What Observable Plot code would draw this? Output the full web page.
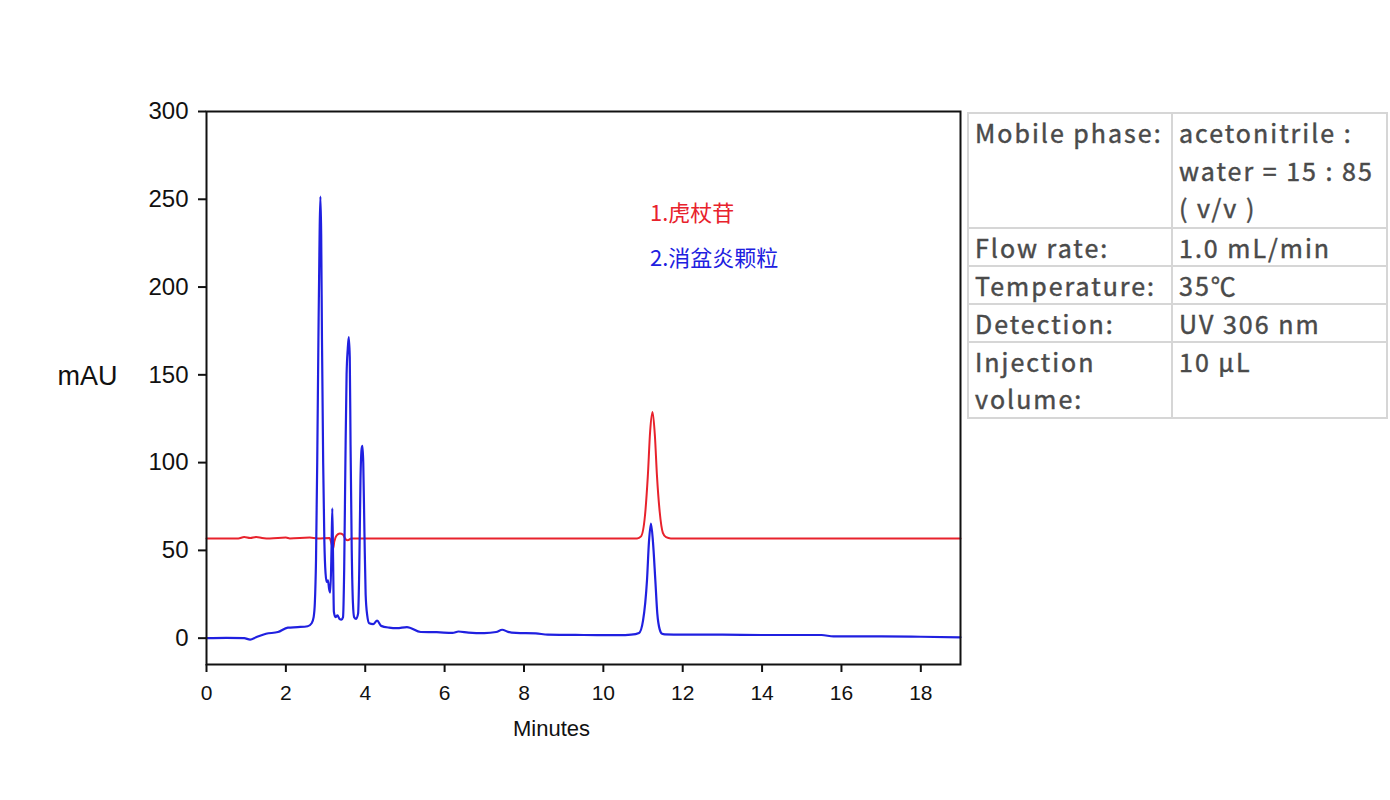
<!DOCTYPE html>
<html>
<head>
<meta charset="utf-8">
<script src="https://cdn.jsdelivr.net/npm/d3@7"></script>
<script src="https://cdn.jsdelivr.net/npm/@observablehq/plot@0.6"></script>
<style>
  html, body { margin: 0; padding: 0; background: #fff; }
  #wrap { position: relative; width: 1390px; height: 800px; }
  #chart { position: absolute; left: 0; top: 0; }
  .leg { position: absolute; left: 650px; font-family: "Noto Sans CJK SC", sans-serif; font-size: 22px; line-height: 30px; white-space: nowrap; }
  table.cond { position: absolute; left: 967px; top: 112px; width: 421px; border-collapse: collapse;
    font-family: "Noto Sans CJK SC", "Noto Sans", sans-serif; font-size: 25px; font-weight: 400; color: #4a4a4a;
    letter-spacing: 2px; -webkit-text-stroke: 0.45px #4a4a4a; }
  table.cond td { border: 2px solid #d6d6d6; padding: 0 6px; line-height: 36px; vertical-align: top; }
  table.cond tr:first-child td { line-height: 37.7px; }
  table.cond tr:last-child td { line-height: 37px; }
  table.cond td:first-child { width: 190px; }
</style>
</head>
<body>
<div id="wrap">
  <div id="chart"></div>
  <div class="leg" id="leg1" style="top:196px;color:#e8222c"></div>
  <div class="leg" id="leg2" style="top:241px;color:#2020e0"></div>
  <table class="cond" id="cond"></table>
</div>
<script>
// ---- data ----
const seriesNames = ["1.虎杖苷", "2.消盆炎颗粒"];
const seriesColors = ["#e8222c", "#2020e0"];

// Series 1: 虎杖苷 standard (red)
const redTime = [0, 0.8, 0.95, 1.1, 1.25, 1.4, 1.6, 2.0, 2.1, 2.6, 2.8, 3.10, 3.16, 3.19, 3.22, 3.28, 3.36, 3.44, 3.50, 3.56, 3.65,
  10.85, 10.95, 11.05, 11.12, 11.18, 11.24, 11.30, 11.35, 11.42, 11.50, 11.58, 11.70, 19.0];
const redValue = [56.8, 56.8, 57.6, 57.0, 57.6, 57.1, 56.8, 57.3, 56.8, 57.3, 56.8, 57.0, 53.0, 51.0, 55.0, 58.5, 59.6, 59.0, 56.5, 55.8, 56.8,
  56.8, 58.0, 70, 92, 118, 128.8, 115, 93, 72, 60, 57.5, 56.8, 56.8];

// Series 2: 消盆炎颗粒 sample (blue)
const blueTime = [0.00, 0.50, 0.95, 1.10, 1.25, 1.50, 1.80, 2.05, 2.30, 2.55, 2.65, 2.70, 2.73, 2.76, 2.79, 2.82, 2.85, 2.87, 2.89, 2.91,
  2.94, 2.97, 3.00, 3.03, 3.06, 3.09, 3.12, 3.15, 3.17, 3.19, 3.21, 3.25, 3.30, 3.35, 3.40, 3.44, 3.47, 3.50, 3.53, 3.56,
  3.585, 3.61, 3.63, 3.66, 3.69, 3.72, 3.77, 3.82, 3.85, 3.88, 3.91, 3.93, 3.95, 3.98, 4.01, 4.05, 4.10, 4.20, 4.30, 4.40,
  4.60, 4.80, 5.05, 5.40, 5.80, 6.20, 6.35, 6.60, 7.00, 7.30, 7.45, 7.60, 7.80, 8.30, 8.60, 9.50, 10.40, 10.70, 10.90, 11.00,
  11.10, 11.15, 11.20, 11.25, 11.31, 11.36, 11.42, 11.48, 11.55, 12.00, 13.00, 14.00, 15.50, 15.80, 17.00, 18.00, 19.00];
const blueValue = [0.0, 0.2, 0.0, -0.8, 0.5, 2.5, 3.5, 6.0, 6.3, 6.8, 8.5, 12, 20, 45, 100, 170, 230, 251.5, 230, 170,
  100, 55, 37, 32, 33, 28, 26, 50, 74, 45, 15, 12, 13, 11, 10.5, 12, 40, 100, 150, 165,
  171.5, 160, 110, 50, 20, 12, 11, 14, 40, 90, 108, 109.5, 100, 60, 25, 13, 8.5, 8, 10, 7,
  6, 5.7, 6.3, 3.5, 3.4, 3.0, 3.8, 3.2, 2.9, 3.5, 4.8, 3.6, 3.0, 2.7, 2.0, 1.8, 1.7, 2.0, 3.0, 10,
  33, 55, 65.3, 55, 33, 14, 5, 2.5, 2.2, 2.0, 2.0, 1.8, 1.8, 1.0, 1.0, 0.8, 0.5];

const xTicks = [0, 2, 4, 6, 8, 10, 12, 14, 16, 18];
const yTicks = [0, 50, 100, 150, 200, 250, 300];
const xLabel = "Minutes";
const yLabel = "mAU";

const condLabels = ["Mobile phase:", "Flow rate:", "Temperature:", "Detection:", "Injection volume:"];
const condValues = ["acetonitrile : water = 15 : 85 (\u00a0v/v\u00a0)", "1.0 mL/min", "35℃", "UV 306 nm", "10 μL"];

// ---- build ----
const red = redTime.map((t, i) => ({t, v: redValue[i]}));
const blue = blueTime.map((t, i) => ({t, v: blueValue[i]}));

const chart = Plot.plot({
  width: 965,
  height: 760,
  marginLeft: 206,
  marginRight: 5,
  marginTop: 111,
  marginBottom: 96,
  style: {fontFamily: "'Liberation Sans', Arial, sans-serif", fontSize: "22px", color: "#111", background: "transparent"},
  x: {domain: [0, 19]},
  y: {domain: [-15, 300]},
  marks: [
    Plot.line(red, {x: "t", y: "v", stroke: seriesColors[0], strokeWidth: 2, curve: "monotone-x"}),
    Plot.line(blue, {x: "t", y: "v", stroke: seriesColors[1], strokeWidth: 2.2, curve: "monotone-x"}),
    Plot.frame({stroke: "#111", strokeWidth: 2}),
    Plot.axisY({ticks: yTicks, tickSize: 8, tickPadding: 10, label: null, fontSize: 24, strokeWidth: 2, tickFormat: d => d}),
    Plot.axisX({ticks: xTicks, tickSize: 8, tickPadding: 13, label: null, fontSize: 21, strokeWidth: 2, tickFormat: d => d}),
    Plot.text([yLabel], {frameAnchor: "left", textAnchor: "middle", dx: -119, dy: -12, fontSize: 27, text: d => d}),
    Plot.text([xLabel], {frameAnchor: "bottom", textAnchor: "middle", dx: -32, dy: 71, fontSize: 22, text: d => d})
  ]
});
document.getElementById("chart").appendChild(chart);

document.getElementById("leg1").textContent = seriesNames[0];
document.getElementById("leg2").textContent = seriesNames[1];

const tbl = document.getElementById("cond");
condLabels.forEach((lab, i) => {
  const tr = document.createElement("tr");
  const a = document.createElement("td"); a.textContent = lab;
  const b = document.createElement("td"); b.textContent = condValues[i];
  tr.appendChild(a); tr.appendChild(b); tbl.appendChild(tr);
});
</script>
</body>
</html>
